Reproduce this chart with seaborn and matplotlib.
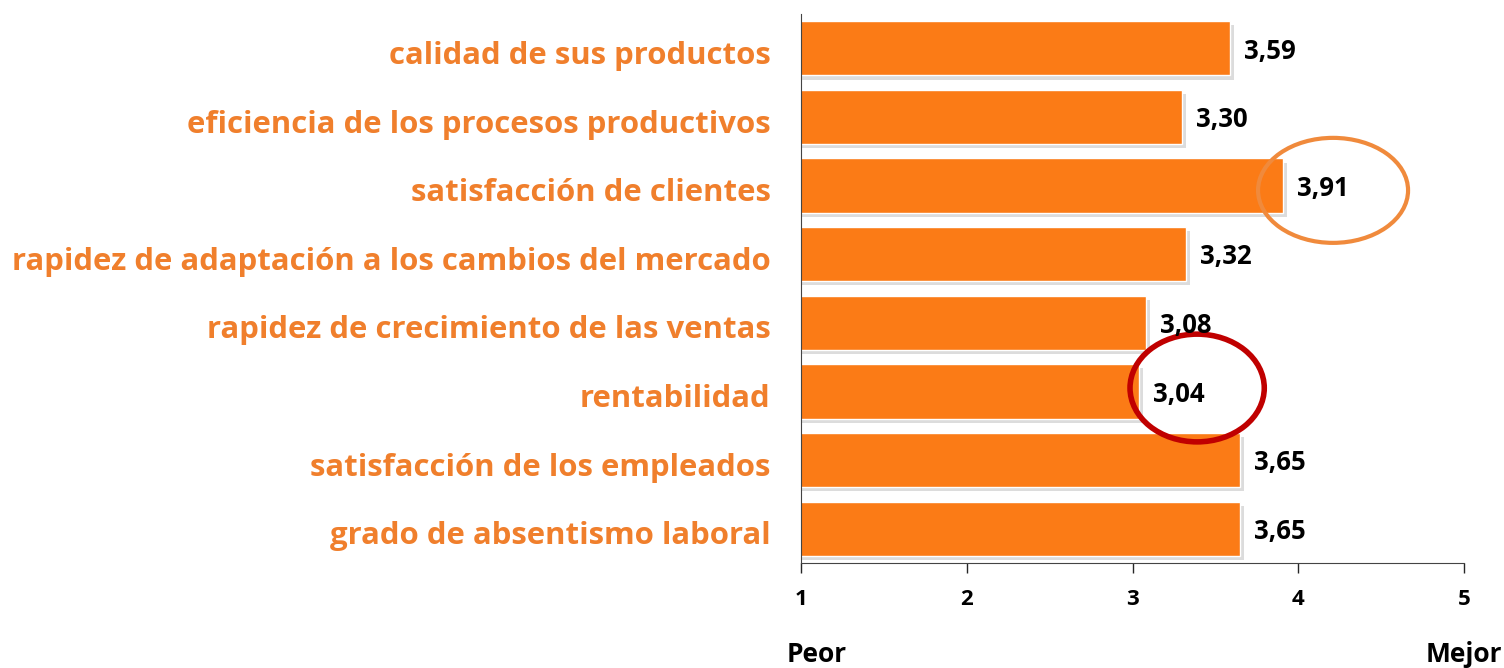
import matplotlib.pyplot as plt
import matplotlib.patheffects as pe
import matplotlib.transforms as mtransforms
from matplotlib.patches import Ellipse
import seaborn as sns
import pandas as pd

# Data
categories = ['calidad de sus productos',
              'eficiencia de los procesos productivos',
              'satisfacción de clientes',
              'rapidez de adaptación a los cambios del mercado',
              'rapidez de crecimiento de las ventas',
              'rentabilidad',
              'satisfacción de los empleados',
              'grado de absentismo laboral']
values = [3.59, 3.30, 3.91, 3.32, 3.08, 3.04, 3.65, 3.65]
x_ticks = [1, 2, 3, 4, 5]

df = pd.DataFrame({'categoria': categories, 'valor': values})

sns.set_style('white')
plt.rcParams['font.family'] = ['Open Sans', 'DejaVu Sans']

fig = plt.figure(figsize=(15.04, 6.68), dpi=100)
ax = fig.add_axes([801 / 1504, 1 - 563 / 668, (1464 - 801) / 1504, (563 - 14) / 668])

sns.barplot(data=df, x='valor', y='categoria', color='#FB7B16', saturation=1,
            width=0.79, orient='h', ax=ax)
for bar in ax.patches:
    bar.set_path_effects([pe.SimplePatchShadow(offset=(3, -3), shadow_rgbFace='#bbbbbb', alpha=0.5),
                          pe.Normal()])

ax.set_xlim(1, 5)
ax.set_ylim(len(categories) - 0.5, -0.5)
ax.set_xticks(x_ticks)
ax.set_xticklabels([str(t) for t in x_ticks], fontsize=16, fontweight='bold', color='black')
ax.set_yticks(range(len(categories)))
ax.set_yticklabels(categories, fontsize=22.4, fontweight='bold', color='#F07F2C')
ax.tick_params(axis='y', length=0, pad=22)
ax.tick_params(axis='x', length=7, width=1, direction='out', pad=12, bottom=True)
# labels sit a little below the bar centres in the original
shift = mtransforms.ScaledTranslation(0, -3 / 72, fig.dpi_scale_trans)
for lbl in ax.get_yticklabels():
    lbl.set_transform(lbl.get_transform() + shift)
ax.set_xlabel('')
ax.set_ylabel('')
for side in ['top', 'right']:
    ax.spines[side].set_visible(False)
ax.spines['left'].set_color('#444444')
ax.spines['bottom'].set_color('#444444')

# value labels
for i, v in enumerate(values):
    ax.text(v + 0.085, i + 0.04, f'{v:.2f}'.replace('.', ','), fontsize=18.5,
            fontweight='bold', va='center', ha='left', color='black')

# highlight circles
ax.add_patch(Ellipse((4.21, 2.07), 0.905, 1.53, fill=False, edgecolor='#F08A3C',
                     linewidth=3, clip_on=False))
ax.add_patch(Ellipse((3.39, 4.95), 0.81, 1.57, fill=False, edgecolor='#C00000',
                     linewidth=4, clip_on=False))

fig.text(787 / 1504, 1 - 655 / 668, 'Peor', fontsize=19, fontweight='bold',
         va='center', ha='left', color='black')
fig.text(1502 / 1504, 1 - 655 / 668, 'Mejor', fontsize=19, fontweight='bold',
         va='center', ha='right', color='black')

fig.savefig('out.png', dpi=100)
